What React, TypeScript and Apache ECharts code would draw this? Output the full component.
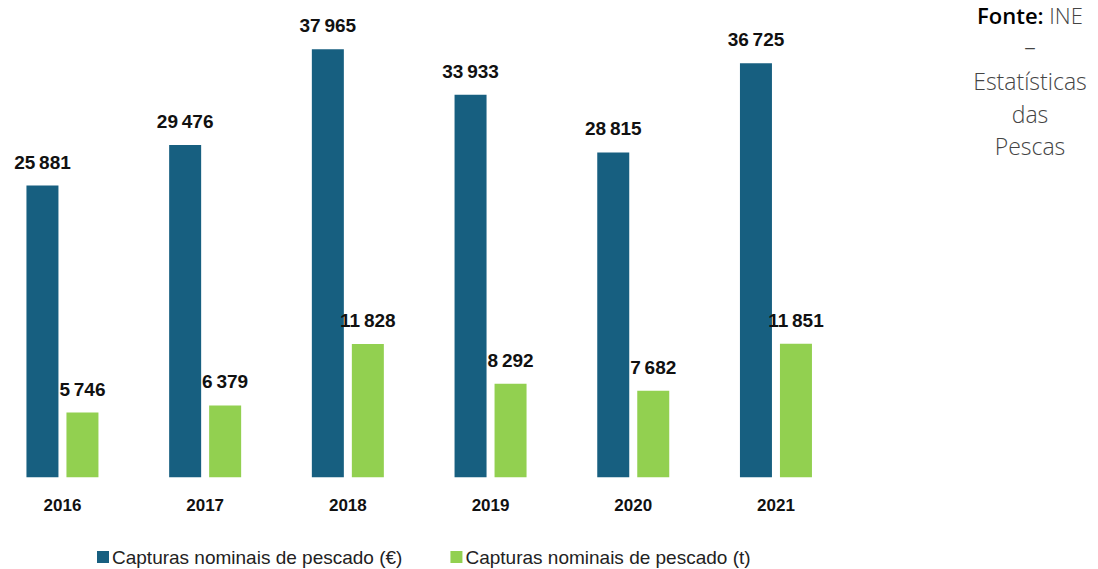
import React, { useEffect, useRef } from "react";
import * as echarts from "echarts";

const years = ["2016", "2017", "2018", "2019", "2020", "2021"];
const valuesEuro = [25881, 29476, 37965, 33933, 28815, 36725];
const valuesTon = [5746, 6379, 11828, 8292, 7682, 11851];
const seriesNames = ["Capturas nominais de pescado (€)", "Capturas nominais de pescado (t)"];
const sourceLines = ["–", "Estatísticas", "das", "Pescas"];

const BLUE = "#175F80";
const GREEN = "#92D050";
const SHIFT = 9; // container starts 9px left of the page

const fmt = (v: number) => {
  const s = String(Math.round(v));
  return s.replace(/\B(?=(\d{3})+(?!\d))/g, "\u2009");
};

export default function App() {
  const ref = useRef<HTMLDivElement>(null);
  useEffect(() => {
    if (!ref.current) return;
    const chart = echarts.init(ref.current, null, { renderer: "svg" });
    const labelStyle = {
      show: true,
      position: "top" as const,
      distance: 14,
      fontFamily: "Liberation Sans, Arial, sans-serif",
      fontWeight: "bold" as const,
      fontSize: 19,
      color: "#111",
      formatter: (p: any) => fmt(p.value),
    };
    chart.setOption({
      animation: false,
      backgroundColor: "#ffffff",
      grid: { left: 0.1, right: 250.7, top: 26.4, bottom: 91.7, containLabel: false },
      xAxis: {
        type: "category",
        data: years,
        axisLine: { show: false },
        axisTick: { show: false },
        axisLabel: {
          margin: 20,
          fontFamily: "Liberation Sans, Arial, sans-serif",
          fontWeight: "bold",
          fontSize: 17,
          color: "#111",
        },
      },
      yAxis: {
        type: "value",
        min: 0,
        max: 40000,
        show: false,
        splitLine: { show: false },
      },
      legend: {
        left: 92 + SHIFT,
        top: 542,
        itemWidth: 12,
        itemHeight: 12,
        itemGap: 48,
        icon: "rect",
        textStyle: {
          fontFamily: "Liberation Sans, Arial, sans-serif",
          fontSize: 19,
          lineHeight: 20,
          color: "#222",
          padding: [0, 0, 0, -2],
        },
        data: seriesNames,
      },
      series: [
        {
          name: seriesNames[0],
          type: "bar",
          data: valuesEuro,
          barWidth: 32,
          barGap: "25%",
          itemStyle: { color: BLUE },
          label: labelStyle,
        },
        {
          name: seriesNames[1],
          type: "bar",
          data: valuesTon,
          barWidth: 32,
          itemStyle: { color: GREEN },
          label: labelStyle,
        },
      ],
      graphic: [
        {
          type: "text",
          x: 1030 + SHIFT,
          y: 15,
          style: {
            text: "{b|Fonte:} {n|INE}",
            textAlign: "center",
            textVerticalAlign: "middle",
            rich: {
              b: { fontFamily: "Open Sans, sans-serif", fontSize: 22, lineHeight: 24, fontWeight: 600, fill: "#000" },
              n: { fontFamily: "Open Sans, sans-serif", fontSize: 22, lineHeight: 24, fontWeight: 300, fill: "#444" },
            },
            fontFamily: "Open Sans, sans-serif",
            fontSize: 22,
            lineHeight: 24,
            fill: "#444",
          },
        },
        ...sourceLines.map((t, i) => ({
          type: "text",
          x: 1030 + SHIFT,
          y: (i === 0 ? 46 : 48.5) + i * 32.5,
          style: {
            text: t,
            textAlign: "center",
            textVerticalAlign: "middle",
            fontFamily: "Open Sans, sans-serif",
            fontSize: 23,
            fontWeight: 300,
            fill: "#444",
          },
        })),
      ],
    });
    return () => chart.dispose();
  }, []);
  return (
    <div
      ref={ref}
      style={{ width: 1098 + SHIFT, height: 569, position: "absolute", left: -SHIFT, top: 0 }}
    />
  );
}
